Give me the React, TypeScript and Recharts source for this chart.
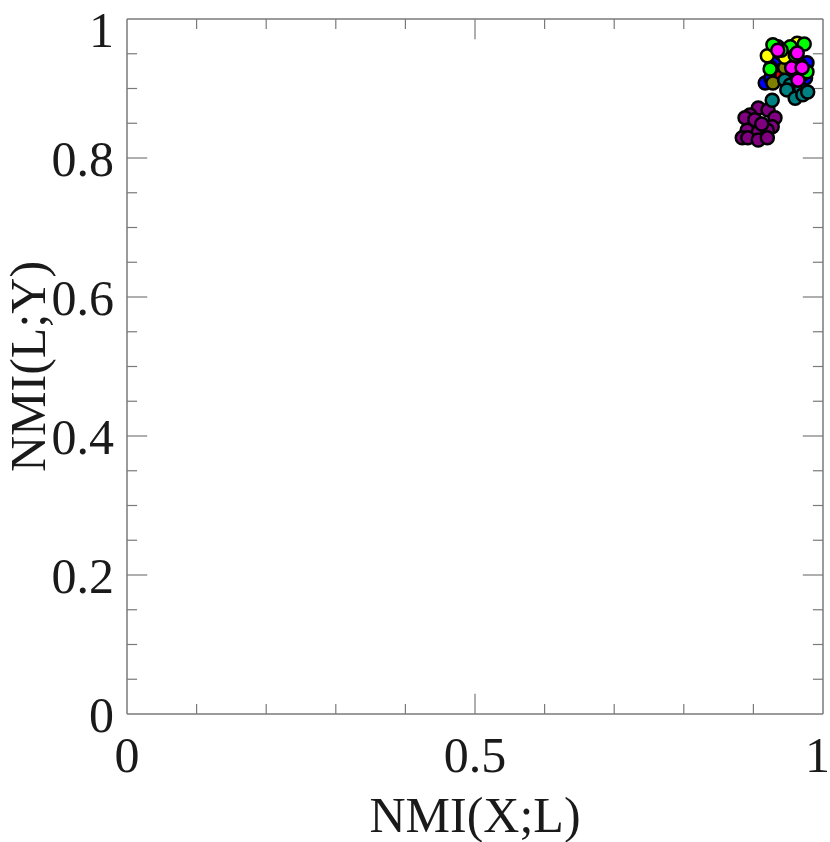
import { ScatterChart, Scatter, XAxis, YAxis, ReferenceLine } from 'recharts'

const X_TICKS = [0, 0.5, 1]
const Y_TICKS = [0, 0.2, 0.4, 0.6, 0.8, 1]
const X_MINOR = [0.1, 0.2, 0.3, 0.4, 0.6, 0.7, 0.8, 0.9]
const Y_MINOR = [0.05, 0.1, 0.15, 0.25, 0.3, 0.35, 0.45, 0.5, 0.55, 0.65, 0.7, 0.75, 0.85, 0.9, 0.95]

const blue = [
  { x: 0.917, y: 0.908 }, { x: 0.931, y: 0.941 }, { x: 0.977, y: 0.937 }, { x: 0.967, y: 0.905 },
  { x: 0.925, y: 0.915 }, { x: 0.95, y: 0.925 }, { x: 0.975, y: 0.915 }, { x: 0.94, y: 0.95 },
]
const red = [
  { x: 0.935, y: 0.96 }, { x: 0.967, y: 0.934 }, { x: 0.941, y: 0.919 },
  { x: 0.955, y: 0.945 }, { x: 0.925, y: 0.93 }, { x: 0.97, y: 0.92 },
]
const olive = [{ x: 0.928, y: 0.908 }, { x: 0.945, y: 0.93 }, { x: 0.96, y: 0.94 }]
const yellow = [
  { x: 0.963, y: 0.965 }, { x: 0.95, y: 0.955 }, { x: 0.92, y: 0.947 }, { x: 0.945, y: 0.945 },
]
const purple = [
  { x: 0.907, y: 0.872 }, { x: 0.921, y: 0.869 }, { x: 0.895, y: 0.862 }, { x: 0.888, y: 0.858 },
  { x: 0.902, y: 0.855 }, { x: 0.931, y: 0.858 }, { x: 0.927, y: 0.845 }, { x: 0.891, y: 0.84 },
  { x: 0.907, y: 0.837 }, { x: 0.92, y: 0.84 }, { x: 0.884, y: 0.829 }, { x: 0.892, y: 0.829 },
  { x: 0.907, y: 0.826 }, { x: 0.92, y: 0.829 }, { x: 0.912, y: 0.849 },
]
const teal = [
  { x: 0.927, y: 0.883 }, { x: 0.945, y: 0.912 }, { x: 0.953, y: 0.905 }, { x: 0.968, y: 0.9 },
  { x: 0.948, y: 0.898 }, { x: 0.96, y: 0.886 }, { x: 0.971, y: 0.891 }, { x: 0.978, y: 0.895 },
]
const green = [
  { x: 0.928, y: 0.963 }, { x: 0.953, y: 0.96 }, { x: 0.973, y: 0.964 }, { x: 0.924, y: 0.928 },
  { x: 0.977, y: 0.924 }, { x: 0.94, y: 0.955 }, { x: 0.96, y: 0.948 },
]
const magenta = [
  { x: 0.963, y: 0.951 }, { x: 0.955, y: 0.93 }, { x: 0.964, y: 0.912 }, { x: 0.935, y: 0.955 }, { x: 0.97, y: 0.93 },
]

const SERIES = [
  { name: 'blue', data: blue, color: '#0000ff' },
  { name: 'red', data: red, color: '#ff0000' },
  { name: 'olive', data: olive, color: '#808000' },
  { name: 'yellow', data: yellow, color: '#ffff00' },
  { name: 'purple', data: purple, color: '#800080' },
  { name: 'teal', data: teal, color: '#008080' },
  { name: 'green', data: green, color: '#00ff00' },
  { name: 'magenta', data: magenta, color: '#ff00ff' },
]

const FONT = '"Liberation Serif", "DejaVu Serif", serif'
const AXIS = '#7a7a7a'
const TXT = '#1a1a1a'
const FS = 50

// tick lengths in data units (~10px / ~20px)
const MINOR = 0.0145
const MAJOR = 0.029

export default function App() {
  const dot = (color: string) => (p: any) => (
    <circle cx={p.cx} cy={p.cy} r={6.5} fill={color} stroke="#000" strokeWidth={2.5} />
  )

  return (
    <div style={{ position: 'absolute', left: 0, top: 0, background: '#fff' }}>
      <ScatterChart width={830} height={842} margin={{ top: 19, right: 7, bottom: 0, left: 0 }}>
        <XAxis
          type="number"
          dataKey="x"
          domain={[0, 1]}
          ticks={X_TICKS}
          tickLine={false}
          stroke={AXIS}
          strokeWidth={1.5}
          height={128}
          tickMargin={16}
          tick={{ fill: TXT, fontSize: FS, fontFamily: FONT }}
          label={{
            value: 'NMI(X;L)',
            content: (props: any) => {
              const vb = props.viewBox
              return (
                <text
                  x={vb.x + vb.width / 2}
                  y={832}
                  textAnchor="middle"
                  fill={TXT}
                  fontSize={FS}
                  fontFamily={FONT}
                >
                  NMI(X;L)
                </text>
              )
            },
          }}
        />
        <YAxis
          type="number"
          dataKey="y"
          domain={[0, 1]}
          ticks={Y_TICKS}
          tickLine={false}
          stroke={AXIS}
          strokeWidth={1.5}
          width={127}
          tickMargin={7}
          tick={{ fill: TXT, fontSize: FS, fontFamily: FONT }}
          label={{
            value: 'NMI(L;Y)',
            content: (props: any) => {
              const vb = props.viewBox
              const cx = 45
              const cy = vb.y + vb.height / 2
              return (
                <text
                  x={cx}
                  y={cy}
                  transform={`rotate(-90, ${cx}, ${cy})`}
                  textAnchor="middle"
                  fill={TXT}
                  fontSize={FS}
                  fontFamily={FONT}
                >
                  NMI(L;Y)
                </text>
              )
            },
          }}
        />
        <ReferenceLine y={1} stroke={AXIS} strokeWidth={1.5} />
        <ReferenceLine x={1} stroke={AXIS} strokeWidth={1.5} />
        {X_MINOR.concat([0.5]).map((t) => (
          <ReferenceLine
            key={'xb' + t}
            segment={[{ x: t, y: 0 }, { x: t, y: t === 0.5 ? MAJOR : MINOR }]}
            stroke={AXIS}
            strokeWidth={1.2}
          />
        ))}
        {X_MINOR.concat([0.5]).map((t) => (
          <ReferenceLine
            key={'xt' + t}
            segment={[{ x: t, y: 1 }, { x: t, y: 1 - (t === 0.5 ? MAJOR : MINOR) }]}
            stroke={AXIS}
            strokeWidth={1.2}
          />
        ))}
        {Y_MINOR.concat([0.2, 0.4, 0.6, 0.8]).map((t) => (
          <ReferenceLine
            key={'yl' + t}
            segment={[{ x: 0, y: t }, { x: Y_MINOR.includes(t) ? MINOR : MAJOR, y: t }]}
            stroke={AXIS}
            strokeWidth={1.2}
          />
        ))}
        {Y_MINOR.concat([0.2, 0.4, 0.6, 0.8]).map((t) => (
          <ReferenceLine
            key={'yr' + t}
            segment={[{ x: 1, y: t }, { x: 1 - (Y_MINOR.includes(t) ? MINOR : MAJOR), y: t }]}
            stroke={AXIS}
            strokeWidth={1.2}
          />
        ))}
        {SERIES.map((s) => (
          <Scatter key={s.name} name={s.name} data={s.data} shape={dot(s.color)} isAnimationActive={false} />
        ))}
      </ScatterChart>
    </div>
  )
}
